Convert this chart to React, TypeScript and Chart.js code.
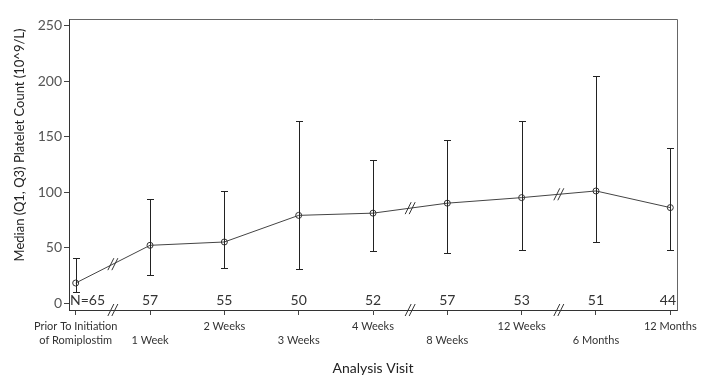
import React, { useEffect, useRef } from 'react';
import { Chart, registerables } from 'chart.js';

Chart.register(...registerables);

const FONT = 'Lato, "Open Sans", sans-serif';

const categories: (string | string[])[] = [
  ['Prior To Initiation', 'of Romiplostim'],
  '1 Week',
  '2 Weeks',
  '3 Weeks',
  '4 Weeks',
  '8 Weeks',
  '12 Weeks',
  '6 Months',
  '12 Months',
];
const medians = [18, 52, 55, 79, 81, 90, 95, 101, 86];
const q1 = [10, 25, 32, 31, 47, 45, 48, 55, 48];
const q3 = [41, 94, 101, 164, 129, 147, 164, 205, 140];
const nCounts = [65, 57, 55, 50, 52, 57, 53, 51, 44];
const yTicks = [0, 50, 100, 150, 200, 250];
const breakPositions = [0.5, 4.5, 6.5];
const yTitle = 'Median (Q1, Q3) Platelet Count (10^9/L)';
const xTitle = 'Analysis Visit';

const errorBarPlugin = {
  id: 'errorBars',
  afterDatasetsDraw(chart: any) {
    const { ctx, scales } = chart;
    const xs = scales.x;
    const ys = scales.y;
    ctx.save();
    ctx.strokeStyle = '#222';
    ctx.lineWidth = 1;
    medians.forEach((_, i) => {
      const x = Math.round(xs.getPixelForValue(i)) + 0.5;
      const yTop = Math.round(ys.getPixelForValue(q3[i])) + 0.5;
      const yBot = Math.round(ys.getPixelForValue(q1[i])) + 0.5;
      ctx.beginPath();
      ctx.moveTo(x, yTop);
      ctx.lineTo(x, yBot);
      ctx.moveTo(x - 3.5, yTop);
      ctx.lineTo(x + 3.5, yTop);
      ctx.moveTo(x - 3.5, yBot);
      ctx.lineTo(x + 3.5, yBot);
      ctx.stroke();
    });
    ctx.restore();
  },
};

const decorPlugin = {
  id: 'decor',
  afterDraw(chart: any) {
    const { ctx, scales, chartArea } = chart;
    const xs = scales.x;
    const ys = scales.y;
    ctx.save();
    // frame top & right
    ctx.strokeStyle = '#666';
    ctx.lineWidth = 1;
    ctx.beginPath();
    ctx.moveTo(Math.round(chartArea.left) + 0.5, Math.round(chartArea.top) + 0.5);
    ctx.lineTo(Math.round(chartArea.right) + 0.5, Math.round(chartArea.top) + 0.5);
    ctx.lineTo(Math.round(chartArea.right) + 0.5, Math.round(chartArea.bottom) + 0.5);
    ctx.stroke();

    // N labels
    ctx.fillStyle = '#333';
    ctx.font = `14px ${FONT}`;
    ctx.textBaseline = 'middle';
    nCounts.forEach((n, i) => {
      const x = xs.getPixelForValue(i);
      const y = chartArea.bottom - 10;
      if (i === 0) {
        ctx.textAlign = 'left';
        ctx.fillText(`N=${n}`, chartArea.left + 1, y);
      } else if (i === nCounts.length - 1) {
        ctx.textAlign = 'right';
        ctx.fillText(`${n}`, chartArea.right - 1, y);
      } else {
        ctx.textAlign = 'center';
        ctx.fillText(`${n}`, x, y);
      }
    });

    // break marks
    ctx.strokeStyle = '#333';
    ctx.lineWidth = 1;
    const slashes = (cx: number, cy: number) => {
      ctx.beginPath();
      for (const d of [-2, 2]) {
        ctx.moveTo(cx + d - 3, cy + 6);
        ctx.lineTo(cx + d + 3, cy - 6);
      }
      ctx.stroke();
    };
    breakPositions.forEach((b) => {
      const x = xs.getPixelForValue(b);
      const lo = Math.floor(b);
      const yMid = ys.getPixelForValue((medians[lo] + medians[lo + 1]) / 2);
      slashes(x, yMid);
      slashes(x, chartArea.bottom);
    });

    // titles
    ctx.fillStyle = '#222';
    ctx.font = `14px ${FONT}`;
    ctx.textAlign = 'center';
    ctx.textBaseline = 'middle';
    ctx.fillText(xTitle, (chartArea.left + chartArea.right) / 2, 368);
    ctx.save();
    ctx.translate(20, 145);
    ctx.rotate(-Math.PI / 2);
    ctx.font = `13px ${FONT}`;
    ctx.fillText(yTitle, 0, 0);
    ctx.restore();
    ctx.restore();
  },
};

export default function App() {
  const ref = useRef<HTMLCanvasElement | null>(null);
  useEffect(() => {
    if (!ref.current) return;
    const chart = new Chart(ref.current, {
      type: 'line',
      data: {
        datasets: [
          {
            data: medians.map((m, i) => ({ x: i, y: m })),
            borderColor: '#444',
            borderWidth: 1,
            pointRadius: 3,
            pointBorderWidth: 1,
            pointBorderColor: '#333',
            pointBackgroundColor: 'rgba(0,0,0,0)',
            tension: 0,
          },
        ],
      },
      options: {
        responsive: false,
        animation: false,
        layout: { padding: { left: 0, right: 26, top: 19, bottom: 0 } },
        plugins: { legend: { display: false }, tooltip: { enabled: false } },
        scales: {
          x: {
            type: 'linear',
            min: -0.09,
            max: 8.09,
            afterBuildTicks: (s: any) => {
              s.ticks = categories.map((_, i) => ({ value: i }));
            },
            afterFit: (s: any) => {
              s.height = 78;
            },
            grid: { display: true, drawOnChartArea: false, drawTicks: true, tickLength: 5, color: '#444' },
            border: { display: true, color: '#333', width: 1 },
            ticks: {
              autoSkip: false,
              maxRotation: 0,
              padding: 5,
              color: '#333',
              font: { family: FONT, size: 11, lineHeight: 1.25 },
              callback: (v: any) => {
                const i = Math.round(Number(v));
                const c = categories[i];
                if (Array.isArray(c)) return c;
                return i % 2 === 1 ? ['', c] : [c];
              },
            },
          },
          y: {
            type: 'linear',
            min: -6.3,
            max: 256,
            afterBuildTicks: (s: any) => {
              s.ticks = yTicks.map((v) => ({ value: v }));
            },
            afterFit: (s: any) => {
              s.width = 69;
            },
            grid: { display: true, drawOnChartArea: false, drawTicks: true, tickLength: 5, color: '#444' },
            border: { display: true, color: '#333', width: 1 },
            ticks: {
              padding: 2,
              color: '#555',
              font: { family: FONT, size: 14 },
            },
          },
        },
      },
      plugins: [errorBarPlugin, decorPlugin],
    } as any);
    return () => chart.destroy();
  }, []);
  return (
    <div style={{ position: 'absolute', left: 0, top: 0, width: 703, height: 388, background: '#fff' }}>
      <canvas ref={ref} width={703} height={388} style={{ display: 'block' }} />
    </div>
  );
}
